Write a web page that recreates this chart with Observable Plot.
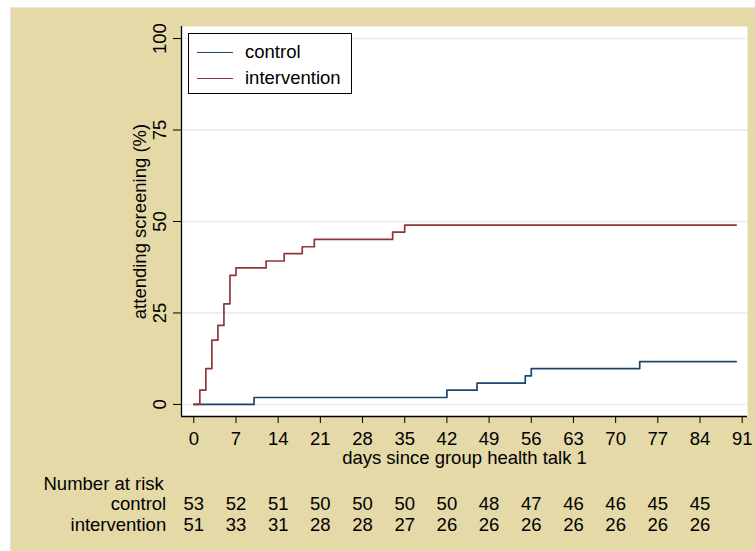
<!DOCTYPE html>
<html>
<head>
<meta charset="utf-8">
<script src="https://cdn.jsdelivr.net/npm/d3@7"></script>
<script src="https://cdn.jsdelivr.net/npm/@observablehq/plot@0.6"></script>
<style>
  html, body { margin: 0; padding: 0; background: #ffffff; }
  #wrap { position: relative; width: 755px; height: 551px; overflow: hidden; font-family: "Liberation Sans", Arial, sans-serif; }
  #bg { position: absolute; left: 10px; top: 7px; width: 745px; height: 544px; background: #e4d9a7; border-left: 1px solid #dfe7ea; border-top: 1px solid #e6e6e6; box-sizing: border-box; }
  #chart { position: absolute; left: 0; top: 0; }
  #legend { position: absolute; left: 188px; top: 33px; width: 164px; height: 61px; box-sizing: border-box; border: 1px solid #000; background: #fff; font-size: 18.5px; color: #000; }
  #legend .row { position: absolute; left: 0; height: 20px; display: flex; align-items: center; }
  #legend .sw { width: 36px; height: 0; margin-left: 8px; margin-right: 12px; }
</style>
</head>
<body>
<div id="wrap">
  <div id="bg"></div>
  <div id="chart"></div>
  <div id="legend"></div>
</div>
<script>
// ---- data ----
const seriesNames = ["control", "intervention"];
const seriesColors = ["#1a476f", "#90353b"];

const controlDays = [0, 10, 42, 47, 55, 56, 74, 90];
const controlPct  = [0, 1.9, 3.9, 5.8, 7.8, 9.8, 11.7, 11.7];

const interventionDays = [0, 1, 2, 3, 4, 5, 6, 7, 12, 15, 18, 20, 33, 35, 90];
const interventionPct  = [0, 3.9, 9.8, 17.6, 21.6, 27.5, 35.3, 37.3, 39.2, 41.2, 43.1, 45.1, 47.1, 49.0, 49.0];

const xTicks = [0, 7, 14, 21, 28, 35, 42, 49, 56, 63, 70, 77, 84, 91];
const yTicks = [0, 25, 50, 75, 100];

const atRiskDays = [0, 7, 14, 21, 28, 35, 42, 49, 56, 63, 70, 77, 84];
const controlAtRisk = [53, 52, 51, 50, 50, 50, 50, 48, 47, 46, 46, 45, 45];
const interventionAtRisk = [51, 33, 31, 28, 28, 27, 26, 26, 26, 26, 26, 26, 26];

const xTitle = "days since group health talk 1";
const yTitle = "attending screening (%)";
const atRiskTitle = "Number at risk";

const xDomain = [-2.04, 91.88];
const yDomain = [-3.3, 103.3];

// ---- build tables ----
const controlData = controlDays.map((d, i) => ({day: d, pct: controlPct[i]}));
const interventionData = interventionDays.map((d, i) => ({day: d, pct: interventionPct[i]}));
const ctrlRisk = atRiskDays.map((d, i) => ({day: d, n: controlAtRisk[i]}));
const intRisk = atRiskDays.map((d, i) => ({day: d, n: interventionAtRisk[i]}));

const FS = 18.5;

const chart = Plot.plot({
  width: 755,
  height: 551,
  marginLeft: 181,
  marginRight: 8,
  marginTop: 26,
  marginBottom: 135,
  style: {background: "transparent", fontFamily: "'Liberation Sans', Arial, sans-serif", fontSize: FS + "px", color: "#000", overflow: "visible"},
  x: {domain: xDomain},
  y: {domain: yDomain},
  marks: [
    Plot.frame({fill: "#ffffff", stroke: null}),
    Plot.gridY(yTicks, {stroke: "#e3ebed", strokeOpacity: 1, strokeWidth: 1.5}),
    Plot.ruleY([yDomain[0]], {stroke: "#000", strokeWidth: 1.3}),
    Plot.ruleX([xDomain[0]], {stroke: "#000", strokeWidth: 1.3}),
    Plot.axisX({ticks: xTicks, tickSize: 7, tickPadding: 8, label: null, fontSize: FS, stroke: "#000"}),
    Plot.axisY({ticks: yTicks, tickSize: 8, tickFormat: () => "", label: null, stroke: "#000"}),
    Plot.text(yTicks, {y: d => d, text: d => String(d), frameAnchor: "left", dx: -21.3, rotate: -90, textAnchor: "middle", lineAnchor: "middle", fontSize: FS}),
    Plot.text([yTitle], {frameAnchor: "left", dx: -41, rotate: -90, textAnchor: "middle", lineAnchor: "middle", fontSize: FS}),
    Plot.text([xTitle], {frameAnchor: "bottom", dy: 47, lineAnchor: "bottom", fontSize: FS}),
    Plot.text([atRiskTitle], {frameAnchor: "bottom-left", dx: -138, dy: 73.3, textAnchor: "start", lineAnchor: "bottom", fontSize: FS}),
    Plot.text([seriesNames[0]], {frameAnchor: "bottom-left", dx: -15.3, dy: 93.3, textAnchor: "end", lineAnchor: "bottom", fontSize: FS}),
    Plot.text([seriesNames[1]], {frameAnchor: "bottom-left", dx: -15.3, dy: 114.7, textAnchor: "end", lineAnchor: "bottom", fontSize: FS}),
    Plot.text(ctrlRisk, {x: "day", text: d => String(d.n), frameAnchor: "bottom", dy: 93.3, lineAnchor: "bottom", fontSize: FS}),
    Plot.text(intRisk, {x: "day", text: d => String(d.n), frameAnchor: "bottom", dy: 114.7, lineAnchor: "bottom", fontSize: FS}),
    Plot.line(controlData, {x: "day", y: "pct", curve: "step-after", stroke: seriesColors[0], strokeWidth: 1.7}),
    Plot.line(interventionData, {x: "day", y: "pct", curve: "step-after", stroke: seriesColors[1], strokeWidth: 1.7})
  ]
});
document.getElementById("chart").appendChild(chart);

// ---- legend ----
const legend = document.getElementById("legend");
seriesNames.forEach((name, i) => {
  const row = document.createElement("div");
  row.className = "row";
  row.style.top = (i === 0 ? 8 : 34) + "px";
  const sw = document.createElement("span");
  sw.className = "sw";
  sw.style.borderTop = "1.7px solid " + seriesColors[i];
  const t = document.createElement("span");
  t.textContent = name;
  row.appendChild(sw);
  row.appendChild(t);
  legend.appendChild(row);
});
</script>
</body>
</html>
